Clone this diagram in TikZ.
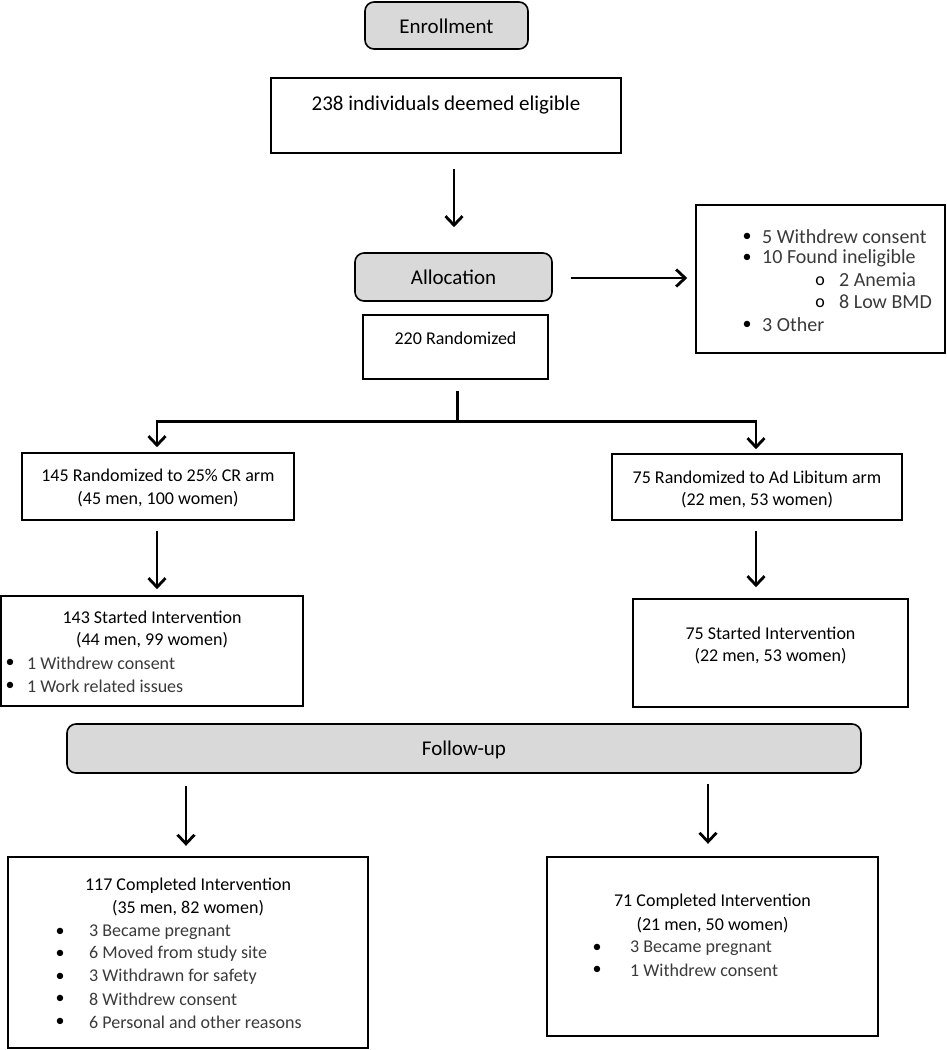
\documentclass[tikz,border=0pt]{standalone}
\usepackage{fontspec}
\setmainfont{Carlito}
\usetikzlibrary{arrows.meta,calc}
\definecolor{hdrgray}{HTML}{D9D9D9}
\definecolor{itemgray}{HTML}{3A3A3A}
\begin{document}
\begin{tikzpicture}[x=1pt,y=-1pt,
  box/.style={draw=black, line width=1.6pt, inner sep=0pt, fill=white},
  hdr/.style={box, fill=hdrgray, rounded corners=9pt},
  big/.style={inner sep=0pt, font=\fontsize{21}{25}\selectfont},
  txt/.style={inner sep=0pt, font=\fontsize{18}{22}\selectfont},
  itm/.style={inner sep=0pt, anchor=west, text=itemgray, font=\fontsize{18}{22}\selectfont},
  xitm/.style={inner sep=0pt, anchor=west, text=itemgray, font=\fontsize{20}{24}\selectfont},
  bul/.style={inner sep=0pt, font=\fontsize{18}{22}\selectfont},
  arr/.style={line width=2.8pt, -{Straight Barb[length=9pt,width=17pt]}},
  ln/.style={line width=3pt},
]
\useasboundingbox (0,0) rectangle (947,1050);

% ---------- Enrollment ----------
\node[hdr, minimum width=163pt, minimum height=47pt] (enr) at (446.5,25.5) {};
\node[big] (tenr) at (446.5,26) {Enrollment};

\node[box, minimum width=350pt, minimum height=75pt] (b238) at (446,115.5) {};
\node[big] (t238) at (446,105) {238 individuals deemed eligible};

% ---------- Allocation ----------
\node[hdr, minimum width=197pt, minimum height=48pt] (alloc) at (453.5,277) {};
\node[big] (talloc) at (453.5,277) {Allocation};

\draw[arr] ($(b238.south)+(8,15)$) coordinate (a1s) -- ($(alloc.north)+(0.5,-25)$) coordinate (a1e);

\node[box, minimum width=249pt, minimum height=148pt] (excl) at (820.5,279) {};
\node[bul] (xb1) at (747,237) {•};
\node[xitm] (x1) at (762,237) {5 Withdrew consent};
\node[bul] (xb2) at (747,258) {•};
\node[xitm] (x2) at (762,258) {10 Found ineligible};
\node[bul] (xb3) at (820,281) {o};
\node[xitm] (x3) at (839,280) {2 Anemia};
\node[bul] (xb4) at (820,303) {o};
\node[xitm] (x4) at (839,302) {8 Low BMD};
\node[bul] (xb5) at (747,325) {•};
\node[xitm] (x5) at (762,325) {3 Other};

\draw[arr] ($(alloc.east)+(18,1)$) -- ($(excl.west)+(-8,-1)$);

\node[box, minimum width=185pt, minimum height=64pt] (b220) at (455.5,347) {};
\node[txt] (t220) at (455.5,338) {220 Randomized};

% ---------- branch ----------
\node[box, minimum width=272pt, minimum height=67pt] (b145) at (158,486.5) {};
\node[txt] (t145a) at (158,475) {145 Randomized to 25\% CR arm};
\node[txt] (t145b) at (158,499) {(45 men, 100 women)};

\node[box, minimum width=290pt, minimum height=66pt] (bAL) at (757,487) {};
\node[txt] (tALa) at (757,477) {75 Randomized to Ad Libitum arm};
\node[txt] (tALb) at (757,500) {(22 men, 53 women)};

\coordinate (brtop) at ($(b220.south)+(1.5,11)$);
\coordinate (br) at (457,421);
\draw[ln] (brtop) -- (br);
\draw[ln] (157,421) -- (756,421);
\draw[arr] (157,419.5) -- ($(b145.north)+(-1,-5)$);
\draw[arr] (756,419.5) -- ($(bAL.north)+(-1,-4)$);

% ---------- started ----------
\node[box, minimum width=302pt, minimum height=110pt] (b143) at (152,651) {};
\node[txt] (t143a) at (152,617) {143 Started Intervention};
\node[txt] (t143b) at (152,640) {(44 men, 99 women)};
\node[bul] (sb1) at (10,663) {•};
\node[itm] (s1) at (27,663) {1 Withdrew consent};
\node[bul] (sb2) at (10,686) {•};
\node[itm] (s2) at (27,686) {1 Work related issues};

\node[box, minimum width=275pt, minimum height=108pt] (b75) at (770.5,653) {};
\node[txt] (t75a) at (770.5,633) {75 Started Intervention};
\node[txt] (t75b) at (770.5,656) {(22 men, 53 women)};

\draw[arr] ($(b145.south)+(-1,10)$) -- ($(b145.south |- b143.north)+(-1,-6)$);
\draw[arr] ($(bAL.south)+(-1,10)$) -- ($(bAL.south |- b75.north)+(-1,-11)$);

% ---------- follow-up ----------
\node[hdr, minimum width=794pt, minimum height=49pt] (fol) at (464,748.5) {};
\node[big] (tfol) at (464,750) {Follow-up};

\node[box, minimum width=360pt, minimum height=191pt] (b117) at (188,952.5) {};
\node[txt] (t117a) at (188,886) {117 Completed Intervention};
\node[txt] (t117b) at (188,908) {(35 men, 82 women)};
\node[bul] (cb1) at (60,932) {•};
\node[itm] (c1) at (89,932) {3 Became pregnant};
\node[bul] (cb2) at (60,954) {•};
\node[itm] (c2) at (89,954) {6 Moved from study site};
\node[bul] (cb3) at (60,977) {•};
\node[itm] (c3) at (89,977) {3 Withdrawn for safety};
\node[bul] (cb4) at (60,999) {•};
\node[itm] (c4) at (89,999) {8 Withdrew consent};
\node[bul] (cb5) at (60,1022) {•};
\node[itm] (c5) at (89,1022) {6 Personal and other reasons};

\node[box, minimum width=331pt, minimum height=179pt] (b71) at (712.5,946.5) {};
\node[txt] (t71a) at (712.5,902) {71 Completed Intervention};
\node[txt] (t71b) at (712.5,925) {(21 men, 50 women)};
\node[bul] (db1) at (597,948) {•};
\node[itm] (d1) at (630,948) {3 Became pregnant};
\node[bul] (db2) at (597,970) {•};
\node[itm] (d2) at (630,970) {1 Withdrew consent};

\draw[arr] ($(fol.south)+(-278,12)$) -- ($(fol.south -| b117.north)+(-2,72)$);
\draw[arr] ($(fol.south)+(244,10)$) -- ($(fol.south -| b71.north)+(-4.5,70)$);
\end{tikzpicture}
\end{document}
